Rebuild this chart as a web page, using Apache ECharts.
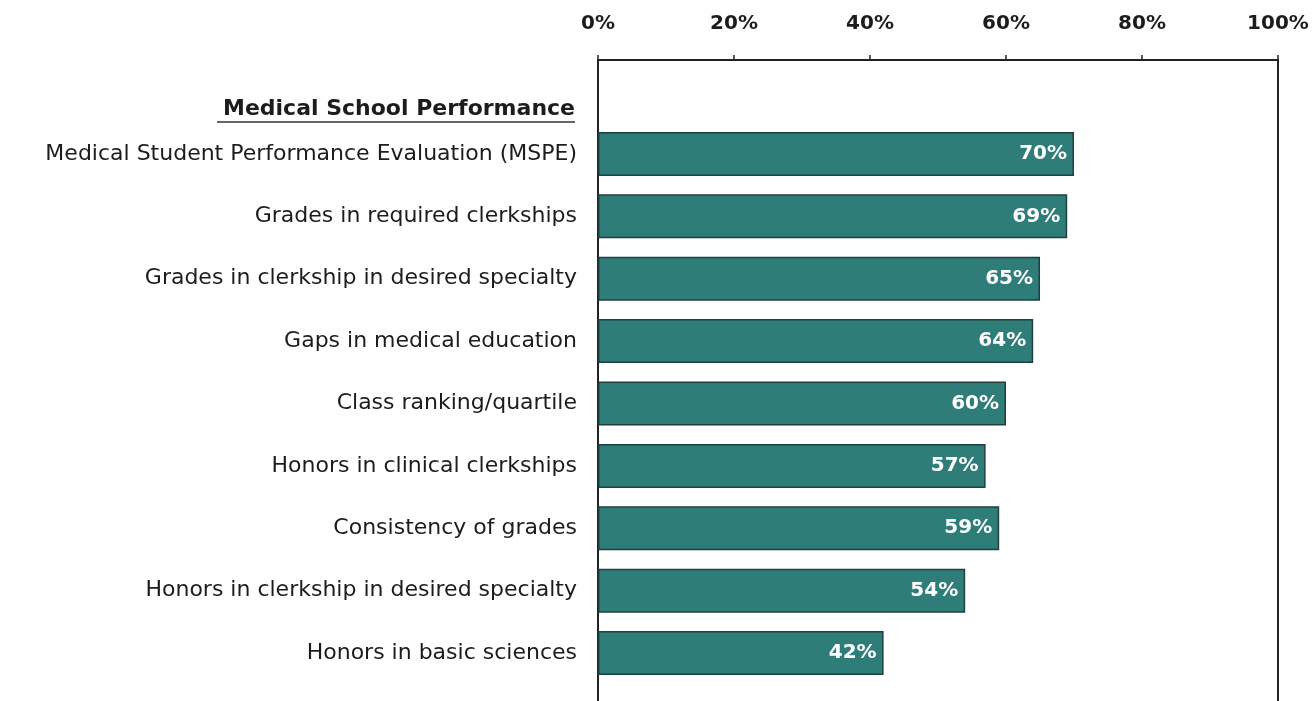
<!DOCTYPE html>
<html>
<head>
<meta charset="utf-8">
<script src="https://cdn.jsdelivr.net/npm/echarts@6/dist/echarts.min.js"></script>
<style>
  html, body { margin: 0; padding: 0; background: #fff; }
  #chart { width: 1314px; height: 701px; }
</style>
</head>
<body>
<div id="chart"></div>
<script>
var categories = [
  "Medical Student Performance Evaluation (MSPE)",
  "Grades in required clerkships",
  "Grades in clerkship in desired specialty",
  "Gaps in medical education",
  "Class ranking/quartile",
  "Honors in clinical clerkships",
  "Consistency of grades",
  "Honors in clerkship in desired specialty",
  "Honors in basic sciences"
];
var values = [70, 69, 65, 64, 60, 57, 59, 54, 42];
var sectionTitle = "Medical School Performance";

var chartDom = document.getElementById("chart");
var chart = echarts.init(chartDom);
var option;

var lineColor = "#222";
var textColor = "#1c1c1c";

option = {
  animation: false,
  backgroundColor: "#fff",
  textStyle: { fontFamily: "DejaVu Sans" },
  grid: [
    // frame: top axis + left/right lines
    { left: 598, right: 36, top: 60, bottom: 0 },
    // bars
    { left: 598, right: 36, top: 122.8, bottom: 16.8 }
  ],
  xAxis: [
    {
      gridIndex: 0,
      type: "value",
      position: "top",
      min: 0,
      max: 100,
      interval: 20,
      axisLine: { show: true, onZero: false, lineStyle: { color: lineColor, width: 2 } },
      axisTick: { show: true, length: 5, lineStyle: { color: lineColor, width: 1.5 } },
      axisLabel: {
        margin: 26,
        formatter: "{value}%",
        color: textColor,
        fontSize: 20,
        fontWeight: "bold",
        fontFamily: "DejaVu Sans"
      },
      splitLine: { show: false }
    },
    {
      gridIndex: 1,
      type: "value",
      min: 0,
      max: 100,
      show: false
    }
  ],
  yAxis: [
    {
      gridIndex: 0,
      type: "value",
      position: "left",
      axisLine: { show: true, onZero: false, lineStyle: { color: lineColor, width: 2 } },
      axisTick: { show: false },
      axisLabel: { show: false },
      splitLine: { show: false }
    },
    {
      gridIndex: 0,
      type: "value",
      position: "right",
      axisLine: { show: true, onZero: false, lineStyle: { color: lineColor, width: 2 } },
      axisTick: { show: false },
      axisLabel: { show: false },
      splitLine: { show: false }
    },
    {
      gridIndex: 1,
      type: "category",
      inverse: true,
      data: categories,
      axisLine: { show: false },
      axisTick: { show: false },
      axisLabel: {
        margin: 21,
        color: textColor,
        fontSize: 22,
        fontFamily: "DejaVu Sans"
      }
    }
  ],
  graphic: [
    {
      type: "text",
      right: 1314 - 575,
      top: 98,
      style: {
        text: sectionTitle,
        fill: textColor,
        font: "bold 22px DejaVu Sans"
      }
    },
    {
      type: "line",
      shape: { x1: 217, y1: 122, x2: 575, y2: 122 },
      style: { stroke: "#333", lineWidth: 1.5 }
    }
  ],
  series: [
    {
      type: "bar",
      xAxisIndex: 1,
      yAxisIndex: 2,
      data: values,
      barWidth: 44,
      itemStyle: {
        color: "#2f7d79",
        borderColor: "#1f403e",
        borderWidth: 1.5
      },
      label: {
        show: true,
        position: "insideRight",
        distance: 7,
        formatter: "{c}%",
        color: "#fff",
        fontSize: 20,
        fontWeight: "bold",
        fontFamily: "DejaVu Sans"
      }
    }
  ]
};

option && chart.setOption(option);
</script>
</body>
</html>
